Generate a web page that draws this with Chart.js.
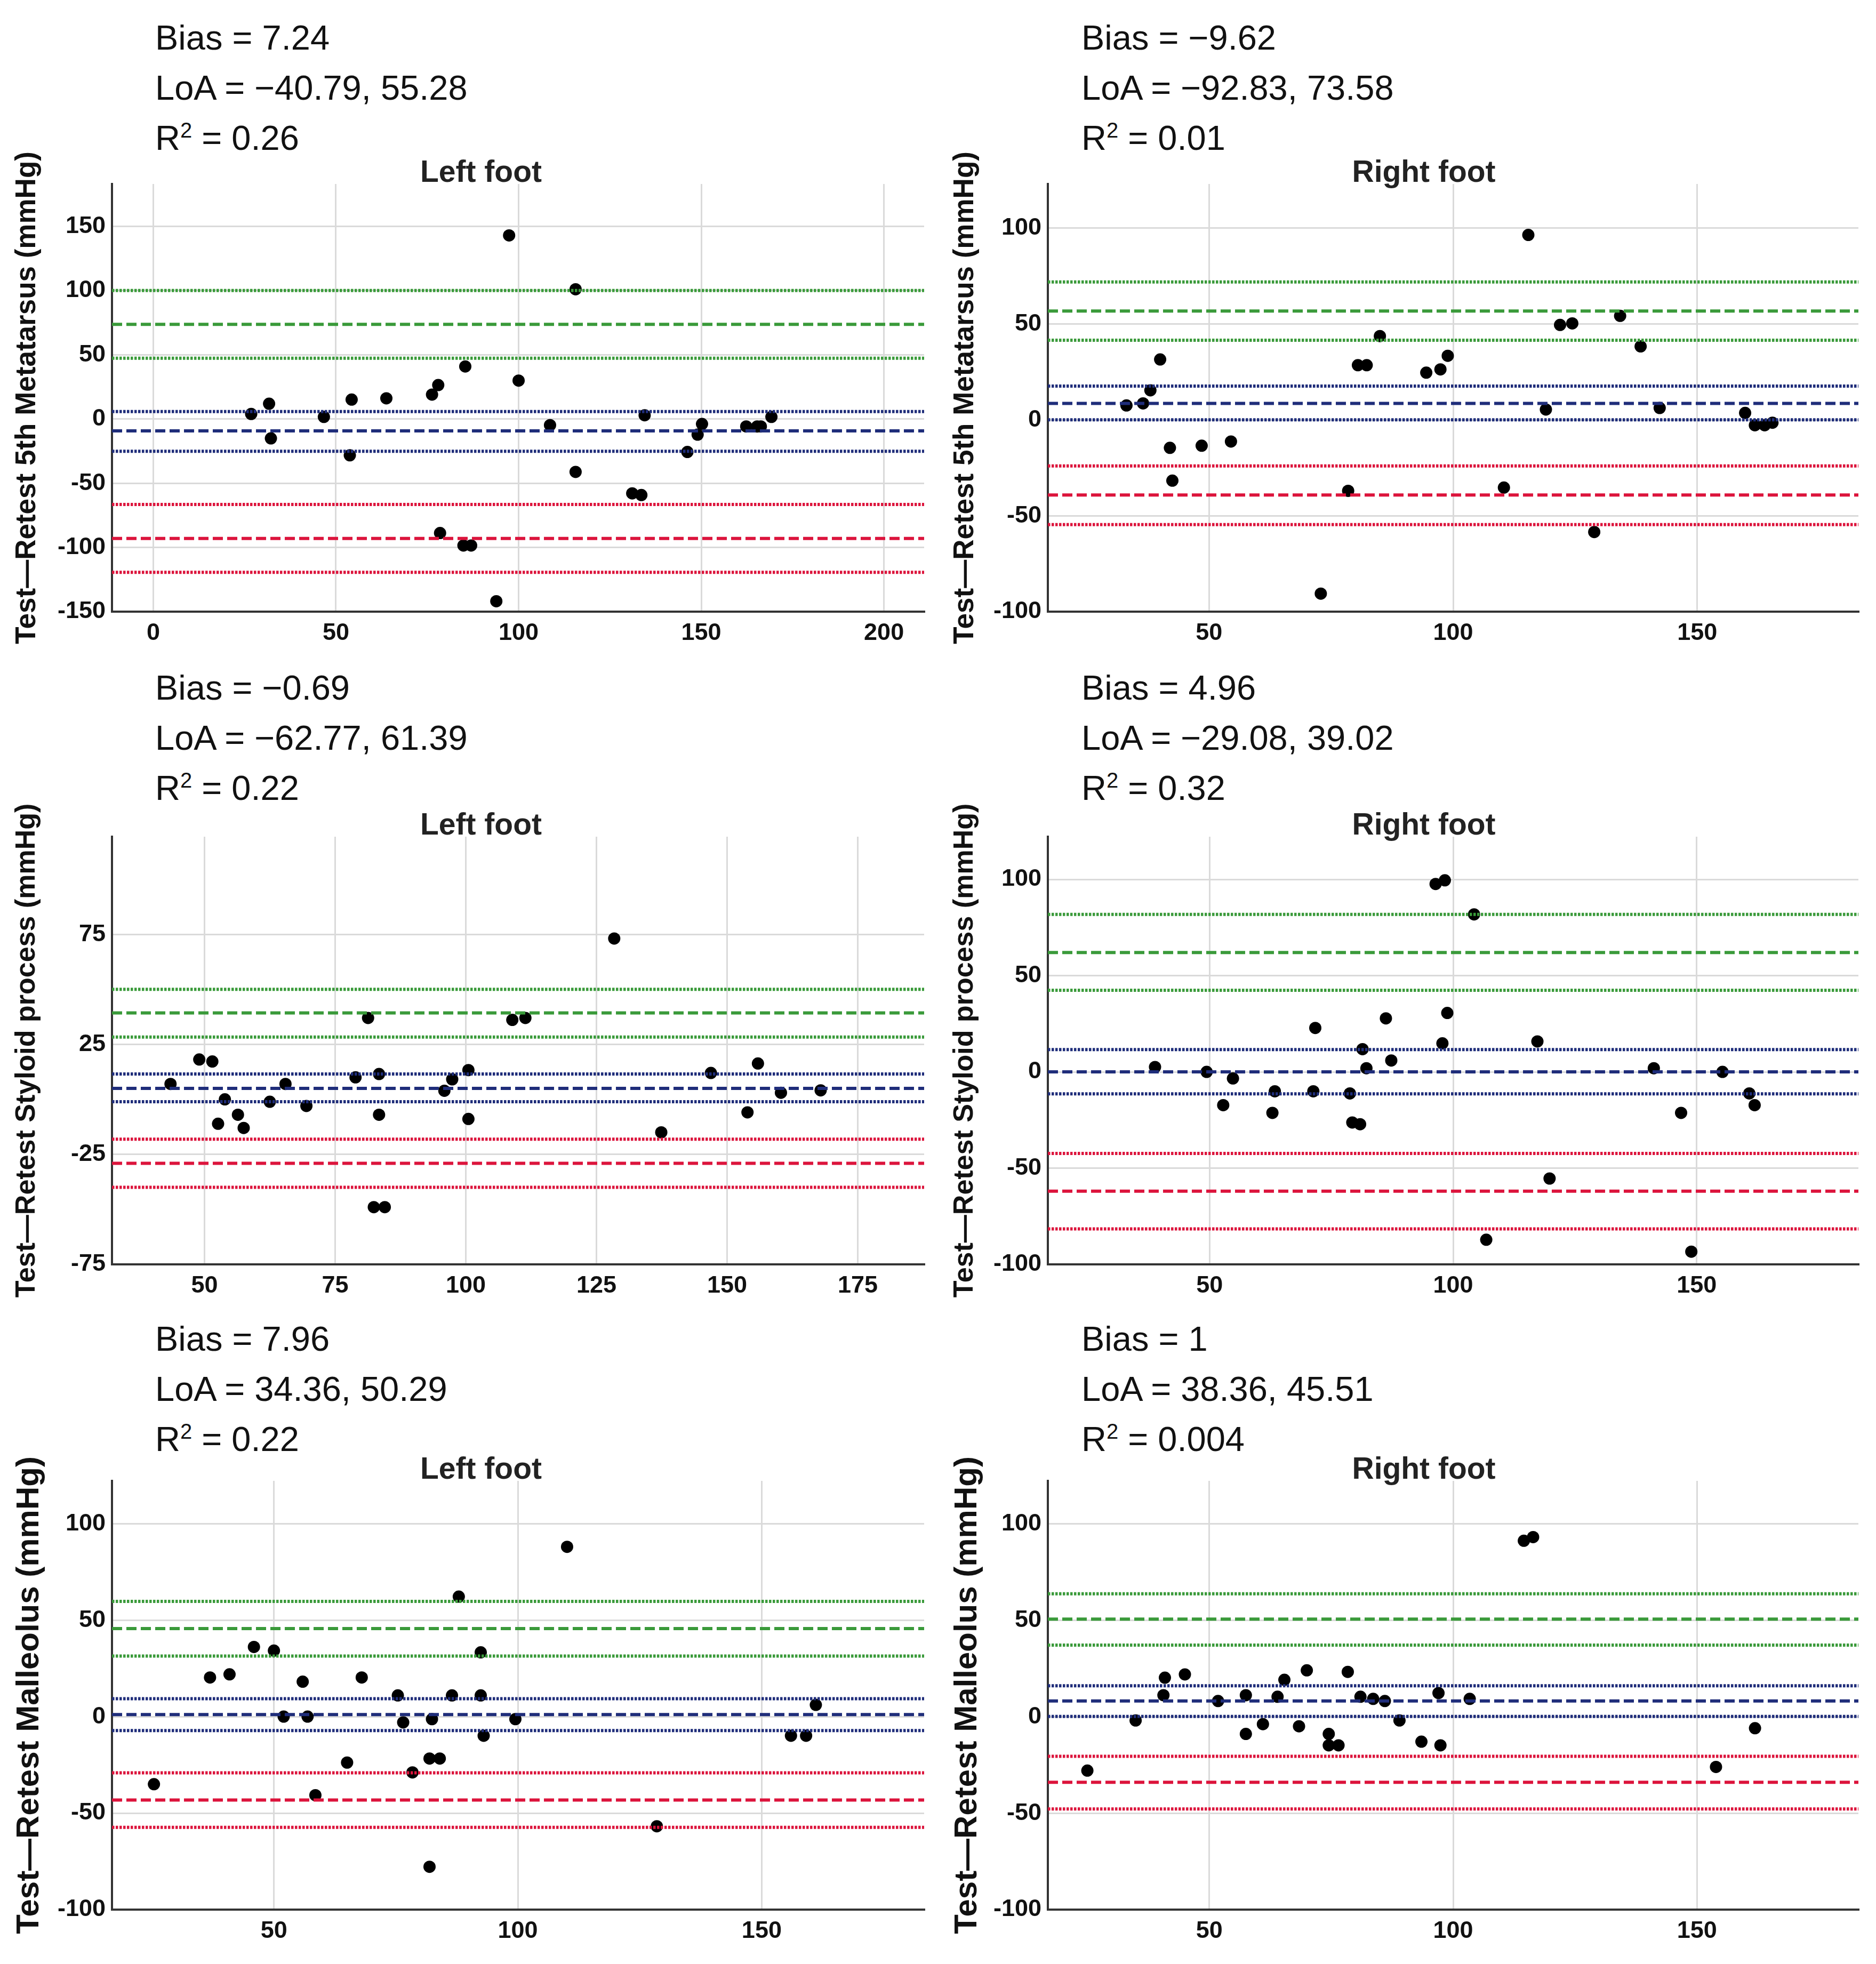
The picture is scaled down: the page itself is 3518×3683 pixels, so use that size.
<!DOCTYPE html>
<html>
<head>
<meta charset="utf-8">
<script src="https://cdn.jsdelivr.net/npm/chart.js@4.4.1/dist/chart.umd.min.js"></script>
<style>
  html, body { margin: 0; padding: 0; background: #fff; }
  body { width: 3518px; height: 3683px; position: relative; overflow: hidden;
         font-family: "Liberation Sans", Arial, sans-serif; }
  .stats { position: absolute; font-size: 65px; line-height: 94px; color: #111; white-space: nowrap; }
  .stats sup { font-size: 40px; line-height: 0; vertical-align: super; }
  canvas { position: absolute; }
</style>
</head>
<body>
<script>
// ---- data ----
// 5th metatarsus, left foot
const leftMetaMean = [26.8, 31.7, 32.2, 46.7, 54.3, 53.8, 63.8, 76.3, 78.0, 85.4, 78.5, 84.9, 87.0, 93.9, 97.4,
  100.0, 108.6, 115.6, 115.6, 131.1, 133.6, 134.5, 146.2, 149.0, 150.2, 162.3, 165.3, 166.3, 169.2];
const leftMetaDiff = [3.9, 11.9, -15.1, 1.6, 15.1, -28.3, 16.1, 19.0, 26.4, 40.9, -88.8, -98.5, -98.5, -141.9, 142.9,
  29.9, -4.8, 101.0, -41.2, -57.9, -59.2, 2.9, -25.7, -12.2, -3.9, -5.8, -5.8, -5.8, 1.6];
// 5th metatarsus, right foot
const rightMetaMean = [33.1, 36.5, 38.0, 40.0, 42.0, 42.5, 48.5, 54.5, 72.9, 78.5, 80.5, 82.3, 85.0, 94.5, 97.4,
  98.9, 110.4, 115.4, 119.0, 121.9, 124.4, 128.9, 134.2, 138.4, 142.3, 159.8, 161.8, 163.8, 165.4];
const rightMetaDiff = [7.5, 8.6, 15.4, 31.5, -14.6, -31.7, -13.5, -11.3, -90.6, -37.0, 28.5, 28.5, 43.7, 24.6, 26.3,
  33.4, -35.3, 96.4, 5.4, 49.5, 50.3, -58.5, 54.2, 38.3, 6.2, 3.6, -2.8, -2.8, -1.5];
// styloid process, left foot
const leftStyMean = [43.5, 49.0, 51.5, 52.6, 53.9, 56.4, 57.5, 62.5, 65.5, 69.5, 78.9, 81.3, 82.4, 83.4, 83.4,
  84.5, 95.9, 97.4, 100.5, 100.5, 108.9, 111.4, 128.4, 137.4, 146.9, 153.9, 155.9, 160.3, 167.9];
const leftStyDiff = [7.0, 18.1, 17.2, -11.1, 0.0, -7.0, -13.0, -1.1, 7.0, -3.0, 10.0, 37.0, -49.0, 11.5, -7.0,
  -49.0, 3.9, 9.1, 13.3, -8.9, 36.1, 37.0, 73.1, -15.0, 12.0, -5.9, 16.3, 3.0, 4.1];
// styloid process, right foot
const rightStyMean = [38.8, 49.4, 54.8, 52.8, 62.9, 63.4, 71.3, 71.7, 78.8, 79.3, 80.9, 81.4, 82.2, 86.2, 87.3,
  96.4, 98.3, 97.8, 98.8, 104.3, 106.8, 117.3, 119.8, 141.2, 146.8, 148.9, 155.3, 160.8, 161.9];
const rightStyDiff = [2.5, 0.0, -3.4, -17.3, -21.3, -10.1, -10.1, 22.8, -11.2, -26.3, -27.2, 11.8, 1.9, 27.8, 5.9,
  97.6, 99.5, 14.8, 30.6, 81.8, -87.2, 15.8, -55.4, 1.9, -21.3, -93.4, 0.0, -11.2, -17.3];
// malleolus, left foot
const leftMalMean = [25.4, 36.9, 40.9, 45.9, 50.0, 52.0, 55.9, 56.9, 58.5, 65.0, 68.0, 75.4, 76.5, 78.4, 81.9,
  84.0, 82.4, 81.9, 86.5, 87.9, 92.4, 92.4, 93.0, 99.5, 110.1, 128.5, 156.0, 159.1, 161.1];
const leftMalDiff = [-35.0, 20.3, 21.9, 36.1, 34.2, 0.0, 18.1, 0.0, -40.7, -23.8, 20.3, 11.0, -3.0, -28.9, -21.7,
  -21.7, -1.3, -77.8, 11.0, 62.2, 33.3, 11.0, -9.9, -1.3, 88.0, -56.8, -9.9, -9.9, 6.1];
// malleolus, right foot
const rightMalMean = [25.0, 34.9, 40.6, 40.9, 45.0, 51.8, 57.5, 57.5, 61.0, 64.0, 65.4, 68.4, 70.0, 74.5, 74.5,
  76.5, 78.4, 81.0, 83.6, 86.0, 89.0, 93.5, 97.0, 97.4, 103.4, 114.5, 116.4, 153.9, 161.9];
const rightMalDiff = [-27.9, -1.9, 11.2, 20.3, 22.0, 8.2, 11.2, -8.9, -3.8, 10.4, 19.2, -4.9, 24.1, -8.9, -14.8,
  -14.8, 23.3, 10.4, 9.3, 8.2, -1.9, -12.9, 12.3, -14.8, 9.3, 91.3, 93.2, -26.0, -5.9];

// reference lines: [lower CI, estimate, upper CI]
const leftMetaUpper = [47.3, 73.7, 100.0], leftMetaBias = [-25.1, -9.3, 5.8], leftMetaLower = [-119.4, -93.0, -66.6];
const rightMetaUpper = [41.5, 56.7, 71.9], rightMetaBias = [0.0, 8.6, 17.6], rightMetaLower = [-54.6, -39.2, -24.0];
const leftStyUpper = [28.3, 39.3, 50.0], leftStyBias = [-1.1, 5.0, 11.5], leftStyLower = [-40.0, -29.1, -18.1];
const rightStyUpper = [42.4, 62.0, 81.8], rightStyBias = [-11.4, 0.0, 11.6], rightStyLower = [-81.6, -62.0, -42.4];
const leftMalUpper = [31.4, 45.6, 59.7], leftMalBias = [-7.2, 1.1, 9.3], leftMalLower = [-57.4, -43.2, -29.1];
const rightMalUpper = [37.2, 50.7, 63.8], rightMalBias = [0.2, 8.2, 16.1], rightMalLower = [-47.8, -34.0, -20.5];

// tick labels
const xTicksWide = [0, 50, 100, 150, 200];
const xTicks50 = [50, 100, 150];
const xTicks25 = [50, 75, 100, 125, 150, 175];
const yTicksMeta = [-150, -100, -50, 0, 50, 100, 150];
const yTicks100 = [-100, -50, 0, 50, 100];
const yTicksSty = [-75, -25, 25, 75];

// stats text above each panel
const statsText = [
  ['Bias = 7.24', 'LoA = \u221240.79, 55.28', '0.26'],
  ['Bias = \u22129.62', 'LoA = \u221292.83, 73.58', '0.01'],
  ['Bias = \u22120.69', 'LoA = \u221262.77, 61.39', '0.22'],
  ['Bias = 4.96', 'LoA = \u221229.08, 39.02', '0.32'],
  ['Bias = 7.96', 'LoA = 34.36, 50.29', '0.22'],
  ['Bias = 1', 'LoA = 38.36, 45.51', '0.004']
];

const FONT = '"Liberation Sans", Arial, sans-serif';
const GREEN = '#3a9a3a', NAVY = '#1f2d7a', RED = '#dc143c';

// layout: rows and columns of the figure
const rowTop = [250, 1474, 2682];
const rowHeight = [989, 989, 991];
const statsTop = [24, 1243, 2464];
// canvas is wider than the plot on the right so the panel title sits where the reference has it;
// a blank right-hand axis (padW) keeps the plot edge in place
const col = [
  { left: 0, width: 1804, axisW: 210, padW: 71, statsLeft: 291, titlePad: 25 },
  { left: 1760, width: 1820, axisW: 205, padW: 95, statsLeft: 2028, titlePad: 24 }
];

const panels = [
  { row: 0, col: 0, title: 'Left foot', yTitle: 'Test\u2014Retest 5th Metatarsus (mmHg)', yTitleSize: 53,
    mean: leftMetaMean, diff: leftMetaDiff, up: leftMetaUpper, bias: leftMetaBias, low: leftMetaLower,
    xMin: -11.3, xMax: 211, yMin: -150, yMax: 183, xTicks: xTicksWide, yTicks: yTicksMeta },
  { row: 0, col: 1, title: 'Right foot', yTitle: 'Test\u2014Retest 5th Metatarsus (mmHg)', yTitleSize: 53,
    mean: rightMetaMean, diff: rightMetaDiff, up: rightMetaUpper, bias: rightMetaBias, low: rightMetaLower,
    xMin: 17, xMax: 183, yMin: -100, yMax: 123, xTicks: xTicks50, yTicks: yTicks100 },
  { row: 1, col: 0, title: 'Left foot', yTitle: 'Test\u2014Retest Styloid process (mmHg)', yTitleSize: 52,
    mean: leftStyMean, diff: leftStyDiff, up: leftStyUpper, bias: leftStyBias, low: leftStyLower,
    xMin: 32.3, xMax: 187.7, yMin: -75, yMax: 119.4, xTicks: xTicks25, yTicks: yTicksSty },
  { row: 1, col: 1, title: 'Right foot', yTitle: 'Test\u2014Retest Styloid process (mmHg)', yTitleSize: 52,
    mean: rightStyMean, diff: rightStyDiff, up: rightStyUpper, bias: rightStyBias, low: rightStyLower,
    xMin: 16.8, xMax: 183.2, yMin: -100, yMax: 122.2, xTicks: xTicks50, yTicks: yTicks100 },
  { row: 2, col: 0, title: 'Left foot', yTitle: 'Test\u2014Retest Malleolus (mmHg)', yTitleSize: 60,
    mean: leftMalMean, diff: leftMalDiff, up: leftMalUpper, bias: leftMalBias, low: leftMalLower,
    xMin: 16.8, xMax: 183.3, yMin: -100, yMax: 122.2, xTicks: xTicks50, yTicks: yTicks100 },
  { row: 2, col: 1, title: 'Right foot', yTitle: 'Test\u2014Retest Malleolus (mmHg)', yTitleSize: 60,
    mean: rightMalMean, diff: rightMalDiff, up: rightMalUpper, bias: rightMalBias, low: rightMalLower,
    xMin: 16.9, xMax: 183.1, yMin: -100, yMax: 122.4, xTicks: xTicks50, yTicks: yTicks100 }
];

function addStats(i, p, c) {
  const div = document.createElement('div');
  div.className = 'stats';
  div.style.left = c.statsLeft + 'px';
  div.style.top = statsTop[p.row] + 'px';
  const s = statsText[i];
  div.innerHTML = s[0] + '<br>' + s[1] + '<br>R<sup>2</sup> = ' + s[2];
  document.body.appendChild(div);
}

function drawPanel(p, i) {
  const c = col[p.col];
  addStats(i, p, c);

  const canvas = document.createElement('canvas');
  canvas.width = c.width;
  canvas.height = rowHeight[p.row];
  canvas.style.left = c.left + 'px';
  canvas.style.top = rowTop[p.row] + 'px';
  document.body.appendChild(canvas);

  // horizontal reference line across the whole x range
  const refLine = (v, dashed, color) => ({
    type: 'line',
    data: [{ x: p.xMin, y: v }, { x: p.xMax, y: v }],
    borderColor: color,
    borderWidth: 6,
    borderDash: dashed ? [19, 8] : [4.5, 2.5],
    pointRadius: 0,
    fill: false,
    order: 0
  });
  const lines = [];
  [[p.up, GREEN], [p.bias, NAVY], [p.low, RED]].forEach(([vals, color]) => {
    lines.push(refLine(vals[0], false, color));
    lines.push(refLine(vals[1], true, color));
    lines.push(refLine(vals[2], false, color));
  });

  const tickFont = { family: FONT, size: 45, weight: 'bold' };
  new Chart(canvas, {
    type: 'scatter',
    data: {
      datasets: [{
        data: p.mean.map((m, k) => ({ x: m, y: p.diff[k] })),
        backgroundColor: '#000',
        borderWidth: 0,
        pointRadius: 11.5,
        order: 1
      }, ...lines]
    },
    options: {
      responsive: false,
      animation: false,
      layout: { padding: { left: 0, right: 0, top: 0, bottom: 10 } },
      plugins: {
        legend: { display: false },
        tooltip: { enabled: false },
        title: {
          display: true,
          text: p.title,
          color: '#222',
          font: { family: FONT, size: 57, weight: 'bold', lineHeight: 0.7 },
          padding: { top: 55, bottom: 0 }
        }
      },
      scales: {
        x: {
          type: 'linear',
          min: p.xMin,
          max: p.xMax,
          afterBuildTicks: s => { s.ticks = p.xTicks.map(v => ({ value: v })); },
          grid: { color: '#dadada', lineWidth: 3, drawTicks: false },
          border: { display: true, color: '#333', width: 4 },
          ticks: { font: tickFont, color: '#111', padding: 14, maxRotation: 0, autoSkip: false }
        },
        y: {
          type: 'linear',
          min: p.yMin,
          max: p.yMax,
          afterBuildTicks: s => { s.ticks = p.yTicks.map(v => ({ value: v })); },
          afterFit: s => { s.width = c.axisW; },
          grid: { color: '#dadada', lineWidth: 3, drawTicks: false },
          border: { display: true, color: '#333', width: 4 },
          ticks: { font: tickFont, color: '#111', padding: 12, autoSkip: false },
          title: {
            display: true,
            text: p.yTitle,
            color: '#111',
            font: { family: FONT, size: p.yTitleSize, weight: 'bold', lineHeight: 1 },
            padding: { top: c.titlePad, bottom: 0 }
          }
        },
        padRight: {
          type: 'linear',
          position: 'right',
          min: p.yMin,
          max: p.yMax,
          afterFit: s => { s.width = c.padW; },
          grid: { display: false },
          border: { display: false },
          ticks: { display: false }
        }
      }
    }
  });
}

panels.forEach(drawPanel);
</script>
</body>
</html>
